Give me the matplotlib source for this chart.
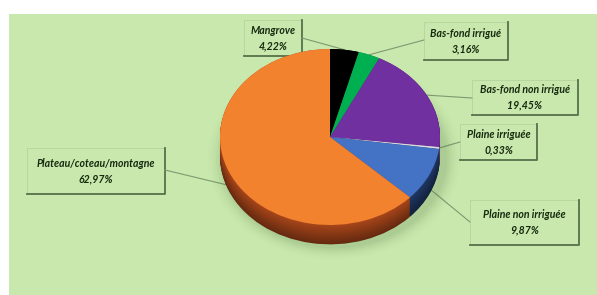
import numpy as np
import matplotlib.pyplot as plt
import matplotlib.colors as mcolors

# data
categories = ['Mangrove', 'Bas-fond irrigué', 'Bas-fond non irrigué',
              'Plaine irriguée', 'Plaine non irriguée', 'Plateau/coteau/montagne']
shares = [4.22, 3.16, 19.45, 0.33, 9.87, 62.97]
colors = ['#000000', '#00b050', '#7030a0', '#dcdcdc', '#4472c4', '#f3822f']
side_colors = ['#000000', '#007a38', '#4a1f6b', '#a0a0a0', '#1f3864', '#a8461a']

# label boxes in pixel coords (x0, y0, x1, y1) and leader anchor
boxes = [(244, 20, 302, 56), (424, 22, 508, 60), (472, 80, 578, 115),
         (460, 124, 537, 160), (470, 200, 579, 245), (27, 148, 165, 194)]
anchors = [(302, 38), (424, 40), (472, 98), (460, 142), (470, 222), (165, 170)]
on_side = [False, False, False, False, True, True]

W, H = 597, 295
fig = plt.figure(figsize=(W / 100, H / 100), dpi=100)
bg = fig.add_axes([0, 0, 1, 1])
bg.set_xlim(0, W)
bg.set_ylim(H, 0)
bg.axis('off')
panel_color = '#c8e8ad'
bg.add_patch(plt.Rectangle((9, 14), W - 9, H - 14, facecolor=panel_color,
                           edgecolor='none', zorder=0))

# pie axes: unit circle maps to rx=110, ry=88 around (330,137)
cx, cy, rx, ry = 330, 137, 110, 88
xl, yl = (-1.3, 1.3), (-1.4, 1.2)
left = cx + xl[0] * rx
top = cy - yl[1] * ry
wpx = (xl[1] - xl[0]) * rx
hpx = (yl[1] - yl[0]) * ry
pax = fig.add_axes([left / W, (H - top - hpx) / H, wpx / W, hpx / H])
pax.patch.set_alpha(0)

depth = 0.22
# soft shadow
for i, a in enumerate(np.linspace(0.06, 0.015, 6)):
    e = plt.matplotlib.patches.Ellipse((0.04, -depth - 0.02), 2.05 + i * 0.05, 2.05 + i * 0.05,
                                       facecolor='#4a6b3a', alpha=a, edgecolor='none')
    pax.add_patch(e)

# side layers
for k, d in enumerate(np.linspace(depth, 0.0, 24)):
    f = 0.6 + 0.4 * (k / 23)
    cols = []
    for c in side_colors:
        r, g, b = mcolors.to_rgb(c)
        cols.append((r * f, g * f, b * f))
    pax.pie(shares, colors=cols, startangle=90, counterclock=False,
            center=(0, -d), radius=1, wedgeprops=dict(linewidth=0))

# top face
wedges, _ = pax.pie(shares, colors=colors, startangle=90, counterclock=False,
                    radius=1, wedgeprops=dict(linewidth=0))
pax.set_aspect('auto')
pax.set_xlim(*xl)
pax.set_ylim(*yl)
pax.axis('off')

text_color = '#17290f'
for i, (name, val) in enumerate(zip(categories, shares)):
    x0, y0, x1, y1 = boxes[i]
    # box: faint top/left, shadowed right/bottom
    bg.plot([x0, x0, x1], [y1, y0, y0], color='#b5d39e', lw=0.6, zorder=2)
    bg.plot([x1, x1, x0], [y0, y1, y1], color='#56704a', lw=1.3, zorder=2)
    label = f"{name}\n{val:.2f}%".replace('.', ',')
    bg.text((x0 + x1) / 2, (y0 + y1) / 2, label, ha='center', va='center',
            fontsize=7.6, fontstyle='italic', fontweight='bold', family=['Lato', 'DejaVu Sans'],
            color=text_color, linespacing=1.45, zorder=3)
    # leader line to the wedge middle
    w = wedges[i]
    mid = np.deg2rad((w.theta1 + w.theta2) / 2)
    px, py = np.cos(mid), np.sin(mid)
    if on_side[i]:
        py -= depth * 0.7
    bg.annotate('', xy=(px, py), xycoords=pax.transData,
                xytext=anchors[i], textcoords='data',
                arrowprops=dict(arrowstyle='-', color='#7d9a70', lw=0.8,
                                shrinkA=0, shrinkB=0))

fig.savefig('out.png', dpi=100)
